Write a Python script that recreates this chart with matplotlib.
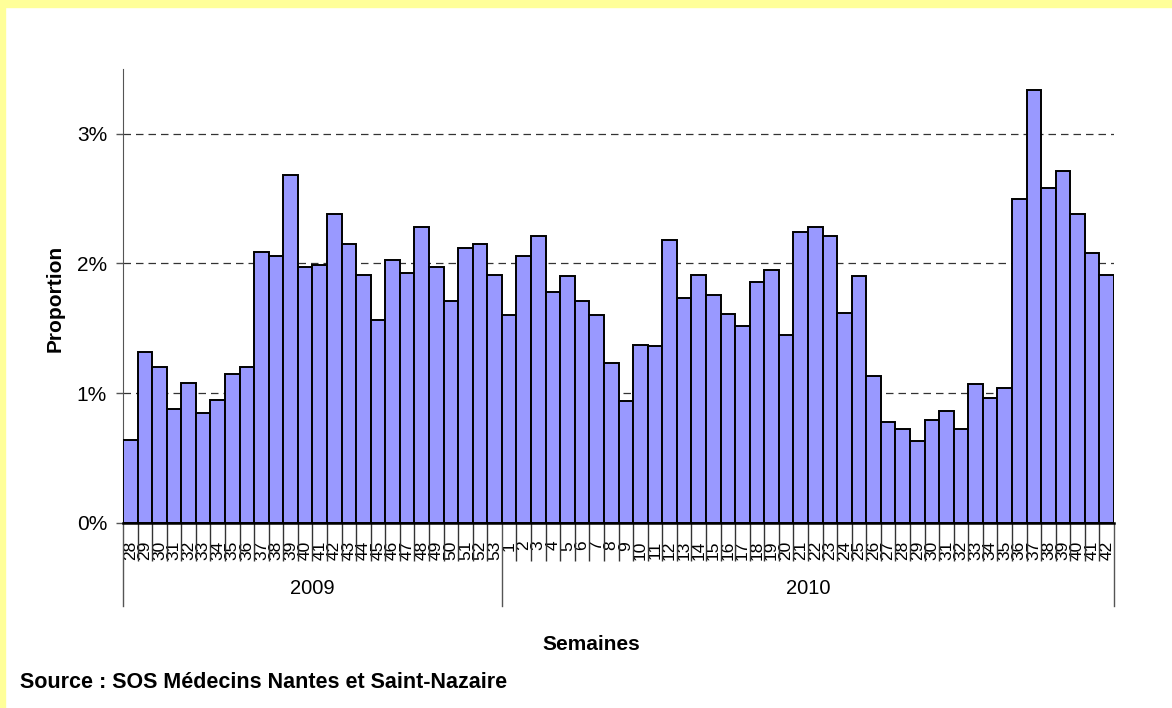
import matplotlib.pyplot as plt
from matplotlib.patches import Rectangle
from matplotlib.ticker import FuncFormatter

plt.rcParams['font.family'] = ['Liberation Sans', 'DejaVu Sans']

# weekly proportions (%), weeks 28-53 of 2009 then 1-42 of 2010
weeks_2009 = list(range(28, 54))
weeks_2010 = list(range(1, 43))
prop_2009 = [0.64, 1.32, 1.20, 0.88, 1.08, 0.85, 0.95, 1.15, 1.20, 2.09,
             2.06, 2.68, 1.97, 1.99, 2.38, 2.15, 1.91, 1.56, 2.03, 1.93,
             2.28, 1.97, 1.71, 2.12, 2.15, 1.91]
prop_2010 = [1.60, 2.06, 2.21, 1.78, 1.90, 1.71, 1.60, 1.23, 0.94, 1.37,
             1.36, 2.18, 1.73, 1.91, 1.76, 1.61, 1.52, 1.86, 1.95, 1.45,
             2.24, 2.28, 2.21, 1.62, 1.90, 1.13, 0.78, 0.72, 0.63, 0.79,
             0.86, 0.72, 1.07, 0.96, 1.04, 2.50, 3.34, 2.58, 2.71, 2.38,
             2.08, 1.91]
years = ['2009', '2010']

labels = [str(w) for w in weeks_2009 + weeks_2010]
values = prop_2009 + prop_2010
n = len(values)
n09 = len(prop_2009)

fig = plt.figure(figsize=(11.72, 7.08), dpi=100)
W, H = 1172, 708
# yellow frame top and left
fig.patches.append(Rectangle((0, 1 - 7 / H), 1, 7 / H, transform=fig.transFigure,
                             color='#FFFF99', zorder=0))
fig.patches.append(Rectangle((0, 0), 5 / W, 1, transform=fig.transFigure,
                             color='#FFFF99', zorder=0))

x0, x1, y0, y1 = 123, 1114, 522.7, 69
ax = fig.add_axes([x0 / W, (H - y0) / H, (x1 - x0) / W, (y0 - y1) / H])

xs = list(range(n))
ax.bar(xs, values, width=1.0, color='#9999FF', edgecolor='black', linewidth=1.4, zorder=3)

ax.set_xlim(-0.5, n - 0.5)
ax.set_ylim(0, 3.5)
ax.set_yticks([0, 1, 2, 3])
ax.yaxis.set_major_formatter(FuncFormatter(lambda v, p: '%d%%' % v))
ax.tick_params(axis='y', length=5, width=1, color='#555555', pad=6.5, labelsize=15)
for g in [1, 2, 3]:
    ax.axhline(g, color='#333333', linestyle=(0, (6, 4)), linewidth=0.9, zorder=1)

for s in ['top', 'right']:
    ax.spines[s].set_visible(False)
ax.spines['left'].set_color('#555555')
ax.spines['bottom'].set_color('black')
ax.spines['bottom'].set_linewidth(1.8)
ax.spines['bottom'].set_zorder(4)

# week labels at bar centres
ax.set_xticks(xs)
ax.set_xticklabels(labels, rotation=90, fontsize=12.5)
ax.tick_params(axis='x', length=0, pad=13)
# separators between weeks
bounds = [i - 0.5 for i in range(1, n) if i != n09]
ax.set_xticks(bounds, minor=True)
ax.tick_params(axis='x', which='minor', length=27, width=1, color='#333333')

# group separators and year labels
tr = ax.get_xaxis_transform()
for b in [-0.5, n09 - 0.5, n - 0.5]:
    ax.plot([b, b], [0, -83 / (y0 - y1)], transform=tr, color='#555555',
            linewidth=1, clip_on=False)
ax.text((n09 - 1) / 2, -(588 - y0) / (y0 - y1), years[0], transform=tr,
        ha='center', va='center', fontsize=14.5)
ax.text((n09 + n - 1) / 2, -(588 - y0) / (y0 - y1), years[1], transform=tr,
        ha='center', va='center', fontsize=14.5)

fig.text(591 / W, 1 - 645 / H, 'Semaines', ha='center', va='center',
         fontsize=15, fontweight='bold')
fig.text(55 / W, 1 - 298 / H, 'Proportion', ha='center', va='center',
         rotation=90, fontsize=15, fontweight='bold')
fig.text(20 / W, 1 - 682 / H, 'Source : SOS Médecins Nantes et Saint-Nazaire',
         ha='left', va='center', fontsize=15.5, fontweight='bold')

fig.savefig('out.png', dpi=100)
